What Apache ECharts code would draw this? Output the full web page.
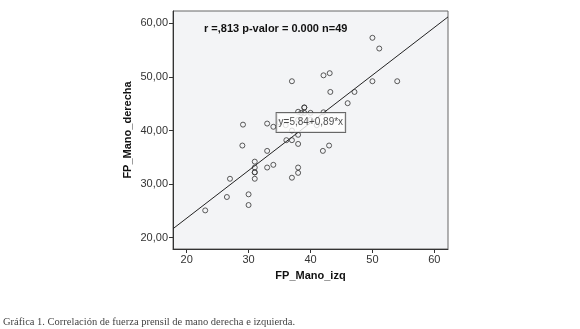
<!DOCTYPE html>
<html>
<head>
<meta charset="utf-8">
<script src="https://cdn.jsdelivr.net/npm/echarts@6/dist/echarts.min.js"></script>
<style>
  html, body { margin: 0; padding: 0; background: #fff; }
  #root { width: 580px; height: 329px; }
</style>
</head>
<body>
<div id="root"></div>
<script>
// FP_Mano_izq (x) vs FP_Mano_derecha (y)
const manoIzq = [50, 51.1, 50, 54, 47.1, 46, 43.1, 42.1, 43.2, 37, 39, 39, 38.5, 39, 42.1,
  29.1, 33, 34, 36.1, 37, 38, 38, 29, 33, 31, 31, 31, 31, 31, 33, 34, 37, 38, 38, 42, 43,
  27, 26.5, 23, 30, 30, 37, 36, 38, 40, 41, 35, 38, 40];
const manoDer = [57.3, 55.3, 49.2, 49.2, 47.2, 45.1, 50.7, 50.3, 47.2, 49.2, 44.3, 44.3, 43.3, 43.3, 43.4,
  41.1, 41.3, 40.7, 38.2, 38.2, 39.2, 37.5, 37.2, 36.2, 34.2, 33.1, 32.2, 32.2, 31.0, 33.1, 33.6, 31.2, 32.1, 33.1, 36.2, 37.2,
  31.0, 27.6, 25.1, 28.1, 26.1, 40.0, 41.0, 42.0, 42.0, 41.0, 41.5, 43.5, 43.3];
const xTicks = [20, 30, 40, 50, 60];
const yTicks = [20, 30, 40, 50, 60];
const intercept = 5.84;
const slope = 0.89;
const xRange = [17.8, 62.2];
const yRange = [17.9, 62.3];

const points = manoIzq.map((x, i) => [x, manoDer[i]]);
const fitLine = xRange.map(x => [x, intercept + slope * x]);

let myCharts = echarts.init(document.getElementById('root'));
let option = {
  animation: false,
  title: {
    text: 'r =,813 p-valor = 0.000 n=49',
    left: 199, top: 18,
    textStyle: { fontFamily: 'Liberation Sans', fontSize: 11, fontWeight: 'bold', color: '#111' }
  },
  graphic: [{
    type: 'text', left: 3, top: 317,
    style: {
      text: 'Gráfica 1. Correlación de fuerza prensil de mano derecha e izquierda.',
      font: '10.5px "Liberation Serif"', fill: '#444'
    }
  }],
  grid: {
    left: 173, right: 132, top: 11, bottom: 80,
    show: true, backgroundColor: '#f3f4f6', borderColor: '#666', borderWidth: 1
  },
  xAxis: {
    type: 'value', min: xRange[0], max: xRange[1],
    name: 'FP_Mano_izq', nameLocation: 'middle', nameGap: 21,
    nameTextStyle: { fontFamily: 'Liberation Sans', fontSize: 11, fontWeight: 'bold', color: '#111' },
    axisLine: { lineStyle: { color: '#333' } },
    axisTick: { customValues: xTicks, length: 4, lineStyle: { color: '#333' } },
    axisLabel: { customValues: xTicks, fontFamily: 'Liberation Sans', fontSize: 11, color: '#333', margin: 5 },
    splitLine: { show: false }
  },
  yAxis: {
    type: 'value', min: yRange[0], max: yRange[1],
    name: 'FP_Mano_derecha', nameLocation: 'middle', nameGap: 40,
    nameTextStyle: { fontFamily: 'Liberation Sans', fontSize: 11, fontWeight: 'bold', color: '#111' },
    axisLine: { show: true, lineStyle: { color: '#333' } },
    axisTick: { show: true, customValues: yTicks, length: 4, lineStyle: { color: '#333' } },
    axisLabel: {
      customValues: yTicks, fontFamily: 'Liberation Sans', fontSize: 11, color: '#333', margin: 5,
      formatter: v => v.toFixed(2).replace('.', ',')
    },
    splitLine: { show: false }
  },
  series: [
    {
      type: 'line', data: fitLine, symbol: 'none', silent: true,
      lineStyle: { color: '#222', width: 1 }, z: 2
    },
    {
      type: 'scatter', data: points, symbol: 'circle', symbolSize: 5,
      itemStyle: { color: 'rgba(0,0,0,0)', borderColor: '#333', borderWidth: 1 }, z: 3
    },
    {
      type: 'scatter', data: [[40.06, 41.5]], symbolSize: 0, silent: true, z: 5,
      label: {
        show: true, position: 'inside', formatter: 'y=5,84+0,89*x',
        fontFamily: 'Liberation Sans', fontSize: 10, color: '#222',
        backgroundColor: '#fff', borderColor: '#444', borderWidth: 1, padding: [5, 2, 4, 2]
      }
    }
  ]
};
myCharts.setOption(option);
</script>
</body>
</html>
